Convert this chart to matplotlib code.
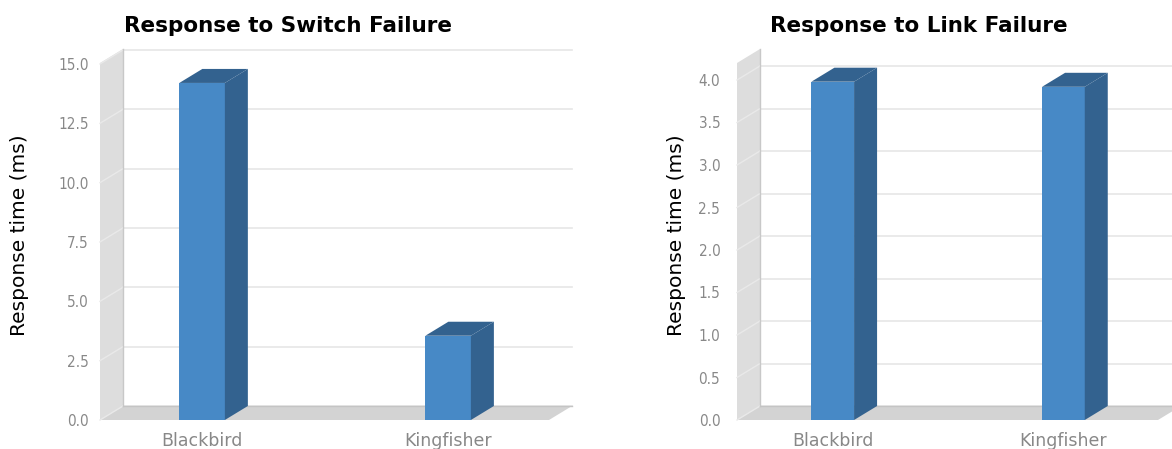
import matplotlib
matplotlib.use("Agg")
import matplotlib.pyplot as plt
from matplotlib.patches import Polygon, Rectangle

# data
categories = ["Blackbird", "Kingfisher"]
switch_values = [14.2, 3.55]
link_values = [3.98, 3.92]
switch_ticks = [0.0, 2.5, 5.0, 7.5, 10.0, 12.5, 15.0]
link_ticks = [0.0, 0.5, 1.0, 1.5, 2.0, 2.5, 3.0, 3.5, 4.0]
titles = ["Response to Switch Failure", "Response to Link Failure"]
ylabel = "Response time (ms)"

W, H = 1172, 449
DX, DY = 23, 14          # 3d depth in pixels
FRONT = "#4789c6"
SIDE = "#33628f"
TOP = "#33628f"
WALL = "#dddddd"
FLOOR = "#d3d3d3"
GRID = "#e6e6e6"
TICKC = "#888888"

fig = plt.figure(figsize=(W / 100, H / 100), dpi=100)


def panel(x0, x1, ymax, values, ticks, title, title_x, ylabel_x, pad):
    # front plane in pixels: x0..x1, y 63..420 (from top)
    y_top, y_bot = 63, 420
    ax = fig.add_axes([x0 / W, (H - y_bot) / H, (x1 - x0) / W, (y_bot - y_top) / H])
    xlo, xhi = -0.415, 1.41
    ax.set_xlim(xlo, xhi)
    ax.set_ylim(0, ymax)
    ddx = DX * (xhi - xlo) / (x1 - x0)
    ddy = DY * ymax / (y_bot - y_top)
    for s in ax.spines.values():
        s.set_visible(False)
    ax.set_xticks([])
    ax.set_yticks(ticks)
    ax.set_yticklabels(["%.1f" % t for t in ticks], color=TICKC, fontsize=11,
                       fontstretch="condensed")
    ax.tick_params(axis="y", length=0, pad=pad)

    # left wall
    ax.add_patch(Polygon([(xlo, 0), (xlo + ddx, ddy), (xlo + ddx, ymax + ddy), (xlo, ymax)],
                         closed=True, fc=WALL, ec="none", clip_on=False, zorder=1))
    # floor
    ax.add_patch(Polygon([(xlo, 0), (xhi, 0), (xhi + ddx, ddy), (xlo + ddx, ddy)],
                         closed=True, fc=FLOOR, ec="none", clip_on=False, zorder=1))
    # gridlines on back wall and across the side wall
    for t in ticks:
        ax.plot([xlo + ddx, xhi + ddx], [t + ddy, t + ddy], color=GRID, lw=1.2,
                clip_on=False, zorder=2)
        ax.plot([xlo, xlo + ddx], [t, t + ddy], color="#e9e9e9", lw=1.0,
                clip_on=False, zorder=2)
    ax.plot([xlo + ddx, xlo + ddx], [ddy, ymax + ddy], color="#c8c8c8", lw=1.0,
            clip_on=False, zorder=2)
    ax.plot([xlo + ddx, xhi + ddx], [ddy, ddy], color="#c4c4c4", lw=1.0,
            clip_on=False, zorder=2)

    # bars
    bw = 0.185
    for i, v in enumerate(values):
        l, r = i - bw / 2, i + bw / 2
        ax.add_patch(Rectangle((l, 0), bw, v, fc=FRONT, ec="none", clip_on=False, zorder=3))
        ax.add_patch(Polygon([(r, 0), (r + ddx, ddy), (r + ddx, v + ddy), (r, v)],
                             closed=True, fc=SIDE, ec="none", clip_on=False, zorder=3))
        ax.add_patch(Polygon([(l, v), (l + ddx, v + ddy), (r + ddx, v + ddy), (r, v)],
                             closed=True, fc=TOP, ec="none", clip_on=False, zorder=3))
        ax.text(i, -0.058 * ymax, categories[i], ha="center", va="center",
                color=TICKC, fontsize=12.5, clip_on=False)

    fig.text(title_x / W, 1 - 26 / H, title, ha="center", va="center",
             fontsize=15.5, fontweight="bold", color="black")
    fig.text(ylabel_x / W, 1 - 235 / H, ylabel, ha="center", va="center",
             rotation=90, fontsize=14.5, color="black")


panel(100, 549, 15.04, switch_values, switch_ticks, titles[0], 288, 20, 8)
panel(737, 1158, 4.2, link_values, link_ticks, titles[1], 919, 676, 12)

fig.savefig("out.png", dpi=100)
